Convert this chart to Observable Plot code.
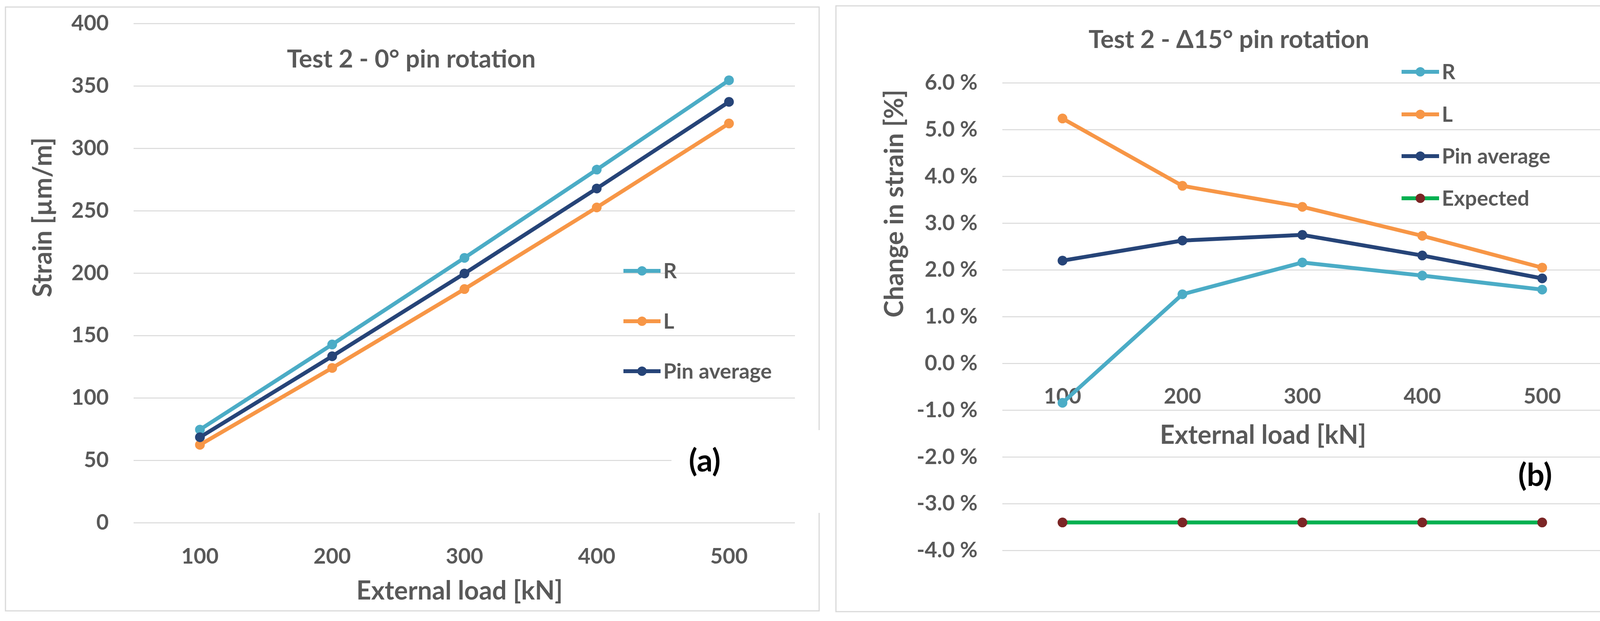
<!DOCTYPE html>
<html><head><meta charset="utf-8">
<script src="https://cdn.jsdelivr.net/npm/d3@7"></script>
<script src="https://cdn.jsdelivr.net/npm/@observablehq/plot@0.6"></script>
<style>
body{margin:0;background:#fff;}
#wrap{position:relative;width:4171px;height:1591px;overflow:hidden;background:#fff;}
#wrap svg{position:absolute;top:0;}
</style></head><body><div id="wrap"></div>
<script>
// ---------- data ----------
const loads = [100, 200, 300, 400, 500];
const strainR = [74.7, 142.9, 212.3, 283.0, 354.6];
const strainL = [62.5, 124.1, 187.3, 252.7, 320.0];
const strainPin = [68.6, 133.5, 199.8, 267.9, 337.3];
const changeR = [-0.84, 1.48, 2.16, 1.88, 1.58];
const changeL = [5.24, 3.80, 3.35, 2.73, 2.05];
const changePin = [2.20, 2.63, 2.75, 2.31, 1.82];
const changeExpected = [-3.40, -3.40, -3.40, -3.40, -3.40];
const strainTicks = [0, 50, 100, 150, 200, 250, 300, 350, 400];
const changeTicks = [-4, -3, -2, -1, 0, 1, 2, 3, 4, 5, 6];
const leftSeries = ["R", "L", "Pin average"];
const rightSeries = ["R", "L", "Pin average", "Expected"];
const titleLeft = "Test 2 - 0° pin rotation";
const titleRight = "Test 2 - Δ15° pin rotation";
const xTitle = "External load [kN]";
const yTitleLeft = "Strain [µm/m]";
const yTitleRight = "Change in strain [%]";

// ---------- styles ----------
const colors = {"R": "#4BACC6", "L": "#F79646", "Pin average": "#264478", "Expected": "#00B050"};
const dotColors = {"R": "#4BACC6", "L": "#F79646", "Pin average": "#264478", "Expected": "#7B2525"};
const textGray = "#595959";
const gridGray = "#D9D9D9";
const FONT = "Lato, 'Open Sans', sans-serif";
const TICK_FS = 55, AXIS_FS = 66, TITLE_FS = 64, LEGEND_FS = 54, PANEL_FS = 80;

function rows(names, arrays) {
  const out = [];
  names.forEach((s, k) => loads.forEach((l, i) => out.push({series: s, load: l, value: arrays[k][i]})));
  return out;
}
const leftRows = rows(leftSeries, [strainR, strainL, strainPin]);
const rightRows = rows(rightSeries, [changeR, changeL, changePin, changeExpected]);

const wrap = document.getElementById("wrap");

// ---------- left chart ----------
const left = Plot.plot({
  width: 2120, height: 1591,
  marginLeft: 342, marginRight: 85, marginTop: 60, marginBottom: 252,
  style: {fontFamily: FONT, fontWeight: 700, background: "transparent", overflow: "visible"},
  x: {type: "linear", domain: [50, 550], axis: null},
  y: {domain: [0, 400], axis: null},
  marks: [
    Plot.ruleY(strainTicks, {y: d => d, stroke: gridGray, strokeWidth: 2.5}),
    Plot.text(strainTicks, {y: d => d, text: d => String(d), frameAnchor: "left", dx: -64, textAnchor: "end", lineAnchor: "middle", fontSize: TICK_FS, fontWeight: 700, fill: textGray}),
    Plot.text(loads, {x: d => d, text: d => String(d), frameAnchor: "bottom", dy: 87, lineAnchor: "middle", fontSize: TICK_FS, fontWeight: 700, fill: textGray}),
    Plot.text([xTitle], {text: d => d, frameAnchor: "bottom", dx: -12.5, dy: 175, lineAnchor: "middle", fontSize: AXIS_FS, fontWeight: 700, fill: textGray}),
    Plot.text([yTitleLeft], {text: d => d, frameAnchor: "left", dx: -232, dy: 61.5, rotate: -90, lineAnchor: "middle", fontSize: AXIS_FS, fontWeight: 700, fill: textGray}),
    Plot.line(leftRows, {x: "load", y: "value", z: "series", stroke: d => colors[d.series], strokeWidth: 10, strokeLinejoin: "round"}),
    Plot.dot(leftRows, {x: "load", y: "value", fill: d => dotColors[d.series], r: 12.5, stroke: "none"})
  ]
});
left.style.left = "0px";
wrap.appendChild(left);

// ---------- right chart ----------
const right = Plot.plot({
  width: 2051, height: 1591,
  marginLeft: 446, marginRight: 70, marginTop: 212, marginBottom: 181,
  style: {fontFamily: FONT, fontWeight: 700, background: "transparent", overflow: "visible"},
  x: {type: "linear", domain: [50, 550], axis: null},
  y: {domain: [-4, 6], axis: null},
  marks: [
    Plot.ruleY(changeTicks, {y: d => d, stroke: gridGray, strokeWidth: 2.5}),
    Plot.text(changeTicks, {y: d => d, text: d => d.toFixed(1) + " %", frameAnchor: "left", dx: -64, textAnchor: "end", lineAnchor: "middle", fontSize: TICK_FS, fontWeight: 700, fill: textGray}),
    Plot.text(loads, {x: d => d, y: () => 0, text: d => String(d), dy: 85, lineAnchor: "middle", fontSize: TICK_FS, fontWeight: 700, fill: textGray}),
    Plot.text([xTitle], {text: d => d, frameAnchor: "bottom", dx: -100.5, dy: -295, lineAnchor: "middle", fontSize: AXIS_FS, fontWeight: 700, fill: textGray}),
    Plot.text([yTitleRight], {text: d => d, frameAnchor: "left", dx: -276, dy: 2, rotate: -90, lineAnchor: "middle", fontSize: AXIS_FS, fontWeight: 700, fill: textGray}),
    Plot.line(rightRows, {x: "load", y: "value", z: "series", stroke: d => colors[d.series], strokeWidth: 10, strokeLinejoin: "round"}),
    Plot.dot(rightRows, {x: "load", y: "value", fill: d => dotColors[d.series], r: 12.5, stroke: "none"})
  ]
});
right.style.left = "2120px";
wrap.appendChild(right);

// ---------- overlay: frames, titles, legends, panel labels ----------
const ov = d3.select(wrap).append("svg")
  .attr("width", 4171).attr("height", 1591)
  .style("left", "0px").style("font-family", FONT).style("font-weight", 700);

// panel borders
ov.append("rect").attr("x", 14).attr("y", 18).attr("width", 2083).attr("height", 1547)
  .attr("fill", "none").attr("stroke", gridGray).attr("stroke-width", 3);
ov.append("rect").attr("x", 2140).attr("y", 15).attr("width", 2008).attr("height", 1552)
  .attr("fill", "none").attr("stroke", gridGray).attr("stroke-width", 3);

// titles
function title(txt, cx, cy, fs) {
  ov.append("text").attr("x", cx).attr("y", cy + 0.36 * fs).attr("text-anchor", "middle")
    .attr("font-size", fs).attr("fill", textGray).text(txt);
}
title(titleLeft, 1053, 150, TITLE_FS);
title(titleRight, 3146, 100, TITLE_FS);

// legends
function legend(names, x0, x1, tx, ys) {
  names.forEach((s, i) => {
    const y = ys[i];
    ov.append("line").attr("x1", x0).attr("x2", x1).attr("y1", y).attr("y2", y)
      .attr("stroke", colors[s]).attr("stroke-width", 10);
    ov.append("circle").attr("cx", (x0 + x1) / 2).attr("cy", y).attr("r", 12).attr("fill", dotColors[s]);
    ov.append("text").attr("x", tx).attr("y", y + 0.36 * LEGEND_FS).attr("font-size", LEGEND_FS)
      .attr("fill", textGray).text(s);
  });
}
legend(leftSeries, 1596, 1691, 1698, [694, 823, 951]);
legend(rightSeries, 3588, 3684, 3691, [184, 293, 400, 508]);

// panel labels
ov.append("rect").attr("x", 1719).attr("y", 1102).attr("width", 385).attr("height", 212).attr("fill", "#fff");
ov.append("text").attr("x", 1804).attr("y", 1184 + 0.3 * PANEL_FS).attr("text-anchor", "middle")
  .attr("font-size", PANEL_FS).attr("fill", "#000").text("(a)");
ov.append("text").attr("x", 3930).attr("y", 1221 + 0.3 * PANEL_FS).attr("text-anchor", "middle")
  .attr("font-size", PANEL_FS).attr("fill", "#000").text("(b)");
</script></body></html>
